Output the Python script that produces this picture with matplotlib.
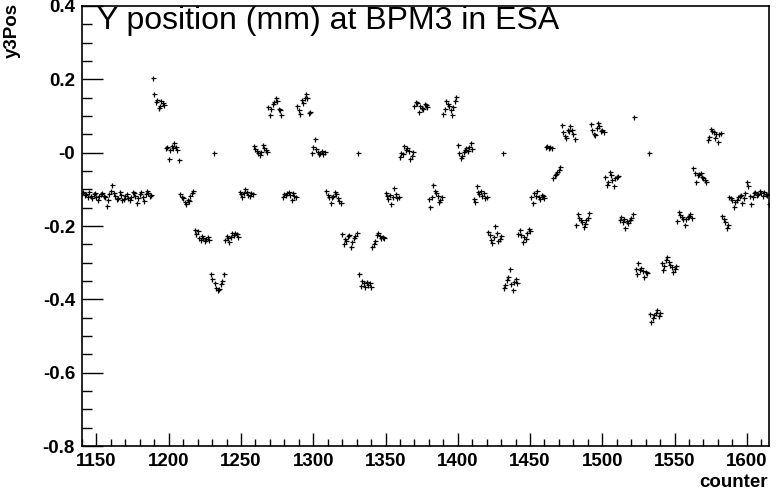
import numpy as np
import matplotlib
matplotlib.use("Agg")
import matplotlib.pyplot as plt
from matplotlib.ticker import MultipleLocator

plt.rcParams['font.family'] = ['Liberation Sans', 'DejaVu Sans']

# y position (mm) per counter, one list per step of the scan
y_1140 = [-0.110, -0.108, -0.115, -0.112, -0.120, -0.106, -0.118, -0.125, -0.113, -0.110,
          -0.122, -0.130, -0.118, -0.114, -0.109, -0.117, -0.121, -0.145, -0.128, -0.112,
          -0.105, -0.088, -0.110, -0.119, -0.126, -0.124, -0.108, -0.116, -0.129, -0.127,
          -0.118, -0.113, -0.125, -0.130, -0.122, -0.106, -0.111, -0.119, -0.138, -0.125,
          -0.114, -0.108, -0.120, -0.131, -0.112, -0.104, -0.110, -0.118, -0.116]
y_1189 = [0.204, 0.159, 0.139, 0.143, 0.121, 0.127, 0.141, 0.135, 0.130]
y_1198 = [0.012, 0.015, -0.017, 0.008, 0.018, 0.013, 0.027, 0.016, 0.006, -0.020]
y_1208 = [-0.113, -0.120, -0.125, -0.134, -0.140, -0.128, -0.131, -0.118, -0.110, -0.104]
y_1218 = [-0.211, -0.222, -0.215, -0.232, -0.238, -0.226, -0.233, -0.240, -0.236, -0.229, -0.237]
y_1229 = [-0.332, -0.345, 0.0, -0.355, -0.368, -0.375, -0.372, -0.359, -0.350, -0.332]
y_1239 = [-0.238, -0.228, -0.234, -0.245, -0.231, -0.220, -0.224, -0.218, -0.222, -0.229]
y_1249 = [-0.108, -0.112, -0.120, -0.110, -0.100, -0.106, -0.115, -0.118, -0.109, -0.112]
y_1259 = [0.018, 0.010, 0.004, 0.000, -0.006, 0.002, 0.020, 0.012, 0.006, 0.003]
y_1269 = [0.124, 0.103, 0.118, 0.132, 0.138, 0.150, 0.142, 0.120, 0.115, 0.103]
y_1279 = [-0.120, -0.112, -0.116, -0.109, -0.107, -0.115, -0.130, -0.111, -0.118, -0.120]
y_1289 = [0.127, 0.115, 0.105, 0.143, 0.135, 0.150, 0.160, 0.148, 0.107, 0.112]
y_1299 = [0.000, 0.015, 0.036, 0.010, 0.002, -0.005, 0.000, 0.004, -0.003, 0.001]
y_1309 = [-0.104, -0.115, -0.122, -0.137, -0.120, -0.118, -0.108, -0.113, -0.125, -0.131, -0.137]
y_1320 = [-0.222, -0.248, -0.235, -0.240, -0.228, -0.225, -0.257, -0.245, -0.232, -0.226, -0.218]
y_1331 = [0.0, -0.332, -0.363, -0.350, -0.356, -0.365, -0.352, -0.360, -0.355, -0.367]
y_1341 = [-0.257, -0.248, -0.240, -0.225, -0.218, -0.226, -0.232, -0.229, -0.233]
y_1350 = [-0.110, -0.118, -0.127, -0.115, -0.140, -0.120, -0.096, -0.112, -0.125, -0.121]
y_1360 = [-0.012, 0.000, -0.004, 0.018, 0.008, 0.014, 0.005, -0.016, -0.008, 0.002]
y_1370 = [0.126, 0.139, 0.135, 0.112, 0.128, 0.123, 0.118, 0.134, 0.130, 0.125]
y_1380 = [-0.126, -0.147, -0.120, -0.088, -0.105, -0.111, -0.118, -0.135, -0.128, -0.122]
y_1390 = [0.106, 0.120, 0.141, 0.134, 0.128, 0.115, 0.103, 0.125, 0.140, 0.151]
y_1400 = [0.021, -0.000, -0.014, -0.008, 0.002, 0.007, 0.012, 0.004, 0.016, 0.027, 0.010]
y_1411 = [-0.126, -0.135, -0.090, -0.108, -0.112, -0.105, -0.118, -0.110, -0.124, -0.120]
y_1421 = [-0.217, -0.225, -0.238, -0.246, -0.230, -0.199, -0.219, -0.240, -0.235, -0.228]
y_1431 = [0.0, -0.370, -0.362, -0.347, -0.340, -0.317, -0.358, -0.375, -0.352, -0.345, -0.355]
y_1442 = [-0.222, -0.210, -0.225, -0.244, -0.229, -0.236, -0.218, -0.207, -0.215]
y_1451 = [-0.122, -0.137, -0.111, -0.118, -0.105, -0.120, -0.127, -0.115, -0.119, -0.124]
y_1461 = [0.015, 0.018, 0.013, 0.016, 0.014]
y_1466 = [-0.070, -0.062, -0.058, -0.052, -0.047, -0.040]
y_1472 = [0.075, 0.055, 0.046, 0.041, 0.062, 0.060, 0.073, 0.063, 0.052, 0.038]
y_1482 = [-0.197, -0.167, -0.179, -0.183, -0.190, -0.204, -0.195, -0.184, -0.178, -0.164]
y_1492 = [0.078, 0.062, 0.050, 0.047, 0.068, 0.080, 0.072, 0.058, 0.063, 0.055]
y_1502 = [-0.067, -0.089, -0.079, -0.052, -0.060, -0.075, -0.092, -0.070, -0.067, -0.063]
y_1512 = [-0.184, -0.175, -0.190, -0.180, -0.205, -0.187, -0.192, -0.185, -0.178, -0.167]
y_1522 = [0.097, -0.317, -0.330, -0.302, -0.320, -0.315, -0.322, -0.338, -0.325, -0.327, 0.0]
y_1533 = [-0.440, -0.462, -0.450, -0.442, -0.436, -0.429, -0.445, -0.438]
y_1541 = [-0.302, -0.319, -0.310, -0.292, -0.284, -0.298, -0.305, -0.312, -0.326, -0.317, -0.308]
y_1552 = [-0.186, -0.161, -0.170, -0.176, -0.182, -0.197, -0.180, -0.175, -0.172, -0.167, -0.178]
y_1563 = [-0.043, -0.056, -0.081, -0.062, -0.058, -0.056, -0.066, -0.070, -0.075, -0.081]
y_1573 = [0.034, 0.043, 0.064, 0.060, 0.057, 0.041, 0.050, 0.028, 0.052, 0.054]
y_1583 = [-0.172, -0.182, -0.190, -0.205, -0.198]
y_1588 = [-0.120, -0.125, -0.130, -0.147, -0.135, -0.128, -0.122, -0.118, -0.115, -0.138,
          -0.125, -0.109, -0.079, -0.090, -0.118, -0.140, -0.122, -0.110, -0.108, -0.115,
          -0.112, -0.105, -0.110, -0.118, -0.108, -0.112, -0.115, -0.140]

steps = [(1140, y_1140), (1189, y_1189), (1198, y_1198), (1208, y_1208), (1218, y_1218),
         (1229, y_1229), (1239, y_1239), (1249, y_1249), (1259, y_1259), (1269, y_1269),
         (1279, y_1279), (1289, y_1289), (1299, y_1299), (1309, y_1309), (1320, y_1320),
         (1331, y_1331), (1341, y_1341), (1350, y_1350), (1360, y_1360), (1370, y_1370),
         (1380, y_1380), (1390, y_1390), (1400, y_1400), (1411, y_1411), (1421, y_1421),
         (1431, y_1431), (1442, y_1442), (1451, y_1451), (1461, y_1461), (1466, y_1466),
         (1472, y_1472), (1482, y_1482), (1492, y_1492), (1502, y_1502), (1512, y_1512),
         (1522, y_1522), (1533, y_1533), (1541, y_1541), (1552, y_1552), (1563, y_1563),
         (1573, y_1573), (1583, y_1583), (1588, y_1588)]

counter = np.concatenate([np.arange(s, s + len(v)) for s, v in steps])
y3pos = np.concatenate([v for s, v in steps])

yticks = [-0.8, -0.6, -0.4, -0.2, 0.0, 0.2, 0.4]
ylabels = ["-0.8", "-0.6", "-0.4", "-0.2", "-0", "0.2", "0.4"]

fig = plt.figure(figsize=(7.84, 4.94), dpi=100)
ax = fig.add_axes([82 / 784, 1 - 446 / 494, 686.5 / 784, 440 / 494])
ax.plot(counter, y3pos, ls='none', marker='+', ms=3.6, mew=0.9, color='black')

ax.set_xlim(1140, 1615)
ax.set_ylim(-0.8, 0.4)
ax.xaxis.set_major_locator(MultipleLocator(50))
ax.xaxis.set_minor_locator(MultipleLocator(10))
ax.set_yticks(yticks, ylabels)
ax.yaxis.set_minor_locator(MultipleLocator(0.05))

ax.tick_params(which='both', direction='in', top=False, right=False, colors='black')
ax.tick_params(axis='x', which='major', length=9.5, width=1.0, pad=5)
ax.tick_params(axis='x', which='minor', length=4.8, width=1.0)
ax.tick_params(axis='y', which='major', length=15, width=1.0, pad=5)
ax.tick_params(axis='y', which='minor', length=7.5, width=1.0)
for lab in ax.get_xticklabels() + ax.get_yticklabels():
    lab.set_fontsize(13.5)
    lab.set_fontweight('bold')
for sp in ax.spines.values():
    sp.set_linewidth(1.2)

fig.text(97 / 784, 1 - 21 / 494, "Y position (mm) at BPM3 in ESA", fontsize=23,
         ha='left', va='center')
fig.text(12 / 784, 1 - 3 / 494, "y3Pos", rotation=90, ha='center', va='top',
         fontsize=13.5, fontweight='bold')
fig.text(768 / 784, 1 - 482 / 494, "counter", ha='right', va='center',
         fontsize=13.5, fontweight='bold')

fig.savefig("out.png", dpi=100)
